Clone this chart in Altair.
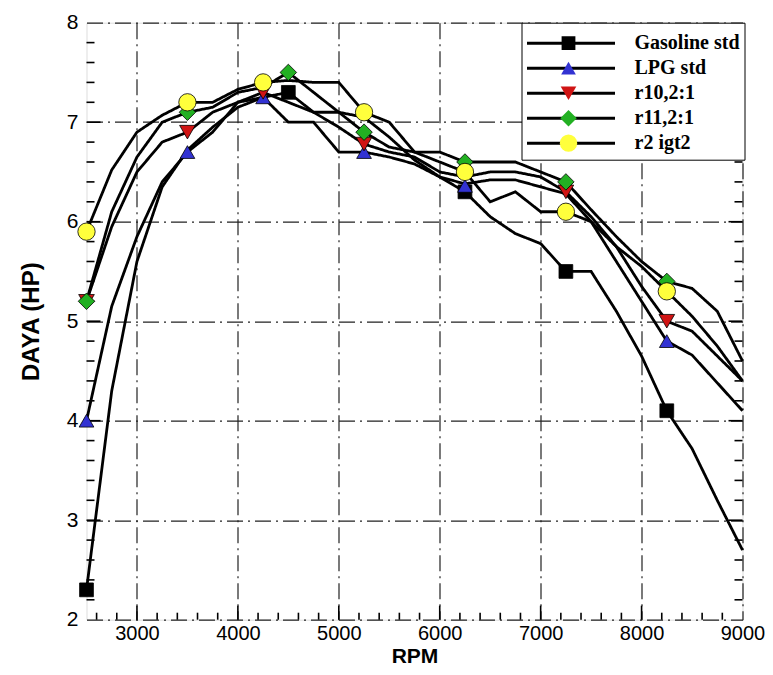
import altair as alt
import pandas as pd

# ---------------- data ----------------
RPM = [2500, 2750, 3000, 3250, 3500, 3750, 4000, 4250, 4500, 4750, 5000, 5250, 5500,
       5750, 6000, 6250, 6500, 6750, 7000, 7250, 7500, 7750, 8000, 8250, 8500, 8750, 9000]

SERIES = ["Gasoline std", "LPG std", "r10,2:1", "r11,2:1", "r2 igt2"]

GASOLINE = [2.3, 4.3, 5.6, 6.35, 6.72, 6.95, 7.15, 7.25, 7.3, 7.1, 7.1, 7.05, 6.85,
            6.62, 6.45, 6.3, 6.05, 5.88, 5.78, 5.5, 5.5, 5.1, 4.65, 4.1, 3.72, 3.2, 2.7]
LPG = [4.0, 5.15, 5.85, 6.4, 6.7, 6.9, 7.2, 7.25, 7.0, 7.0, 6.7, 6.7, 6.65,
       6.58, 6.45, 6.38, 6.42, 6.42, 6.35, 6.28, 6.0, 5.6, 5.2, 4.8, 4.66, 4.38, 4.1]
R10 = [5.2, 5.95, 6.5, 6.8, 6.9, 7.1, 7.2, 7.3, 7.2, 7.1, 6.95, 6.78, 6.7,
       6.65, 6.5, 6.45, 6.5, 6.5, 6.45, 6.3, 6.05, 5.75, 5.35, 5.0, 4.9, 4.65, 4.4]
R11 = [5.2, 6.1, 6.65, 7.0, 7.1, 7.15, 7.3, 7.35, 7.5, 7.3, 7.1, 6.9, 6.75,
       6.7, 6.7, 6.6, 6.6, 6.6, 6.5, 6.4, 6.12, 5.85, 5.6, 5.4, 5.33, 5.1, 4.6]
R2 = [5.9, 6.52, 6.9, 7.07, 7.2, 7.2, 7.33, 7.4, 7.42, 7.4, 7.4, 7.1, 7.0,
      6.7, 6.6, 6.5, 6.2, 6.3, 6.1, 6.1, 6.0, 5.75, 5.55, 5.3, 5.05, 4.75, 4.4]
CURVES = [GASOLINE, LPG, R10, R11, R2]

# symbols drawn on the curves
MARK_RPM = [
    [2500, 4500, 6250, 7250, 8250],
    [2500, 3500, 4250, 5250, 6250, 8250],
    [2500, 3500, 4250, 5250, 7250, 8250],
    [2500, 3500, 4500, 5250, 6250, 7250, 8250],
    [2500, 3500, 4250, 5250, 6250, 7250, 8250],
]
MARK_HP = [
    [2.3, 7.3, 6.3, 5.5, 4.1],
    [4.0, 6.7, 7.25, 6.7, 6.36, 4.8],
    [5.2, 6.9, 7.3, 6.78, 6.3, 5.0],
    [5.2, 7.1, 7.5, 6.9, 6.6, 6.4, 5.4],
    [5.9, 7.2, 7.4, 7.1, 6.5, 6.1, 5.3],
]

COLORS = ["#000000", "#3232d2", "#d01414", "#22b022", "#ffff3c"]
SHAPES = ["square", "triangle-up", "triangle-down", "diamond", "circle"]
SIZES = [190, 300, 300, 470, 520]

X_MAJOR = [3000, 4000, 5000, 6000, 7000, 8000, 9000]
Y_MAJOR = [2, 3, 4, 5, 6, 7, 8]
X_MINOR = [v for v in range(2600, 9000, 200) if v % 1000]
Y_MINOR = [round(2 + 0.2 * i, 1) for i in range(1, 30) if i % 5]
X_TICK_IN = [3000, 4000, 5000, 6000, 7000, 8000]
Y_TICK_IN = [3, 4, 5, 6, 7]

# ---------------- tables ----------------
lines_df = pd.DataFrame(
    [{"name": s, "rpm": r, "hp": h} for s, c in zip(SERIES, CURVES) for r, h in zip(RPM, c)]
)
points_df = pd.DataFrame(
    [{"series": s, "rpm": r, "hp": h}
     for s, rs, hs in zip(SERIES, MARK_RPM, MARK_HP) for r, h in zip(rs, hs)]
)

W, H = 656, 597
PAD_L, PAD_T = 78.5, 14.7
PAD_R = 765 - 8 - PAD_L - W
PAD_B = 667 - 8 - PAD_T - H

xs = alt.Scale(domain=[2500, 9000], nice=False, zero=False)
ys = alt.Scale(domain=[2, 8], nice=False, zero=False)

GRID = dict(grid=True, gridColor="#222222", gridDash=[16, 5, 2, 5], gridWidth=1.2,
            ticks=False, tickSize=0, domain=False, labelFont="Liberation Sans",
            labelColor="black", labelFlush=False, labelOverlap=False,
            titleFont="Liberation Sans", titleFontWeight="bold",
            titleColor="black", format="d")
xaxis = alt.Axis(values=X_MAJOR, title="RPM", labelPadding=3.5, labelFontSize=20,
                 titleFontSize=21, titleX=W / 2, titleY=42.5, titleBaseline="alphabetic",
                 titleAlign="center", **GRID)
yaxis = alt.Axis(values=Y_MAJOR, title="DAYA (HP)", labelPadding=8.5, labelFontSize=21,
                 titleFontSize=24, titleX=-48, titleY=H / 2, titleAngle=270,
                 titleBaseline="alphabetic", titleAlign="center", **GRID)

X = lambda f="rpm": alt.X(f"{f}:Q", scale=xs, axis=xaxis)
Y = lambda f="hp": alt.Y(f"{f}:Q", scale=ys, axis=yaxis)

LEG_COMMON = dict(orient="none", legendY=0, title=" ", titleFontSize=1, titlePadding=3,
                  padding=4, rowPadding=0, clipHeight=25)
legend_lines = alt.Legend(
    legendX=435, symbolType="stroke",
    symbolSize=7744, symbolStrokeWidth=3, symbolStrokeColor="black",
    labelFont="Liberation Serif", labelFontWeight="bold", labelFontSize=20,
    labelColor="black", labelOffset=18,
    strokeColor="black", fillColor="white", zindex=1, **LEG_COMMON,
)
legend_marks = alt.Legend(
    legendX=468, labelExpr="''", symbolStrokeColor="black",
    symbolStrokeWidth=0.8, symbolOpacity=1, zindex=2, labelFontSize=20, **LEG_COMMON,
)

lines = alt.Chart(lines_df).mark_line(color="black", strokeWidth=2.8).encode(
    x=X(), y=Y(),
    detail="name:N",
    strokeDash=alt.StrokeDash("name:N", scale=alt.Scale(range=[[1, 0]] * 5), legend=legend_lines),
    order="rpm:Q",
)

points = alt.Chart(points_df).mark_point(filled=True, opacity=1, stroke="black", strokeWidth=0.8).encode(
    x=X(), y=Y(),
    fill=alt.Fill("series:N", scale=alt.Scale(domain=SERIES, range=COLORS), legend=legend_marks),
    shape=alt.Shape("series:N", scale=alt.Scale(domain=SERIES, range=SHAPES), legend=legend_marks),
    size=alt.Size("series:N", scale=alt.Scale(domain=SERIES, range=SIZES), legend=legend_marks),
)

# inward tick marks on the frame
def yticks(vals, length):
    df = pd.DataFrame({"hp": vals})
    left = alt.Chart(df).mark_rule(color="black", strokeWidth=1.6).encode(
        y=Y(), x=alt.value(0), x2=alt.value(length))
    right = alt.Chart(df).mark_rule(color="black", strokeWidth=1.6).encode(
        y=Y(), x=alt.value(W - length), x2=alt.value(W))
    return [left, right]

def xticks(vals, length):
    df = pd.DataFrame({"rpm": vals})
    return [alt.Chart(df).mark_rule(color="black", strokeWidth=1.6).encode(
        x=X(), y=alt.value(H), y2=alt.value(H - length))]

tick_layers = yticks(Y_MINOR, 8) + yticks(Y_TICK_IN, 14) + xticks(X_MINOR, 7) + xticks(X_TICK_IN, 14)

chart = alt.layer(*tick_layers, lines, points).properties(
    width=W, height=H,
    autosize=alt.AutoSizeParams(type="none"),
    padding={"left": PAD_L, "top": PAD_T, "right": PAD_R, "bottom": PAD_B},
).configure_view(stroke="black", strokeWidth=2.6).configure(background="white")

chart.save("out.html", embed_options={"renderer": "svg", "actions": False})
